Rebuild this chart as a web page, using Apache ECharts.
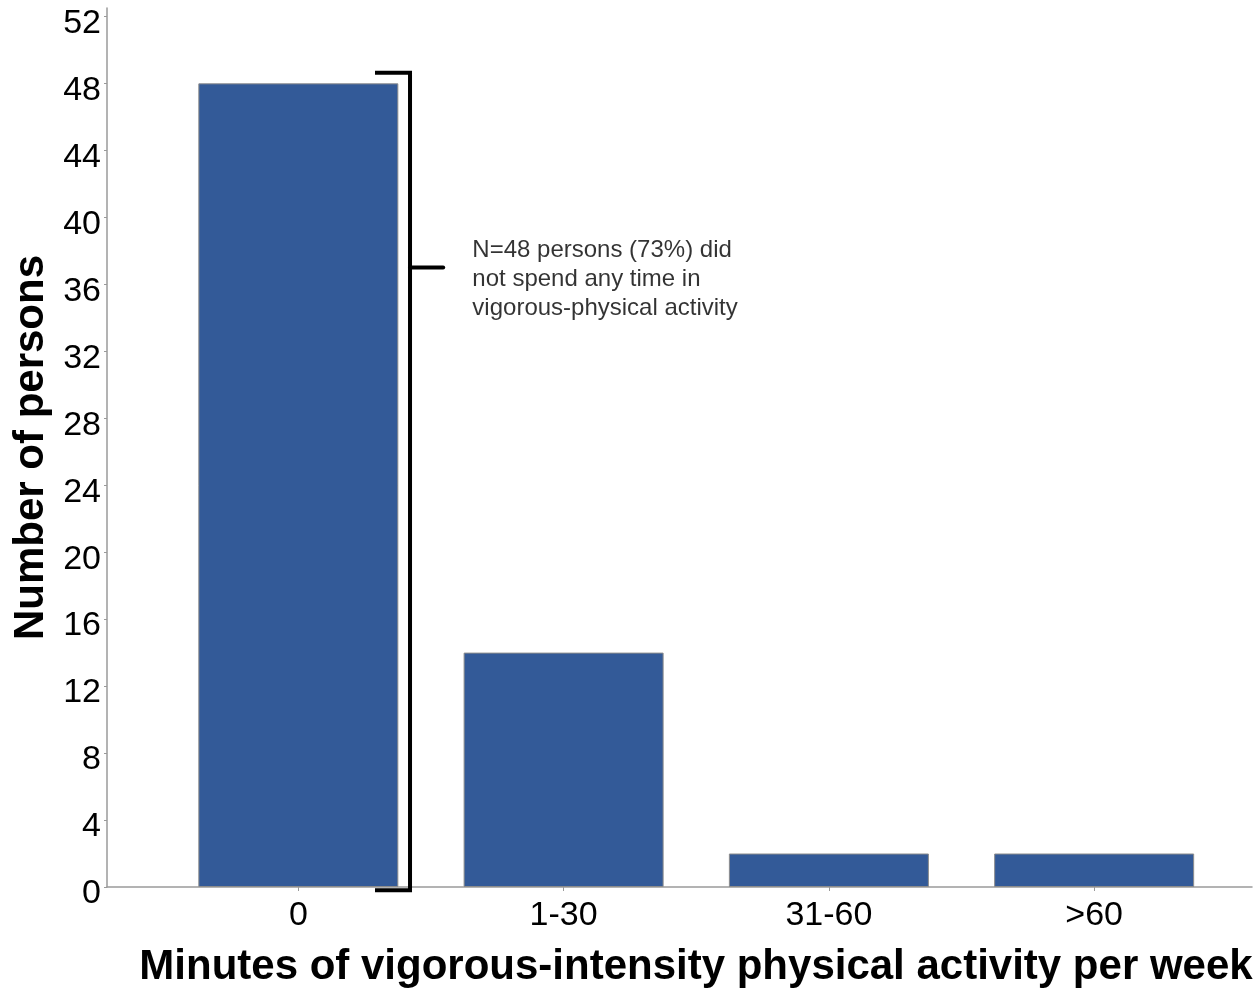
<!DOCTYPE html>
<html>
<head>
<meta charset="utf-8">
<script src="https://cdn.jsdelivr.net/npm/echarts@6/dist/echarts.min.js"></script>
<style>
html,body{margin:0;padding:0;background:#fff;}
#chart{width:1256px;height:990px;}
</style>
</head>
<body>
<div id="chart"></div>
<script>
// ---- data ----
const categories = ['0', '1-30', '31-60', '>60'];
const categoryPositions = [1, 2, 3, 4];
const persons = [48, 14, 2, 2];
const yTicks = [0, 4, 8, 12, 16, 20, 24, 28, 32, 36, 40, 44, 48, 52];
const annotationText = 'N=48 persons (73%) did\nnot spend any time in\nvigorous-physical activity';
// bracket annotation (in data units)
const bracketPath = [[1.289, 48.63], [1.421, 48.63], [1.421, -0.2], [1.289, -0.2]];
const bracketTick = [[1.421, 37.0], [1.546, 37.0]];
const annotationAnchor = [1.656, 38.9];

const FONT = '"Liberation Sans", Arial, sans-serif';
const chart = echarts.init(document.getElementById('chart'), null, {renderer: 'canvas'});

chart.setOption({
  animation: false,
  backgroundColor: '#ffffff',
  grid: {left: 107, right: 4, top: 8, bottom: 103, containLabel: false, outerBoundsMode: 'none'},
  xAxis: {
    type: 'value',
    min: 0.2787,
    max: 4.595,
    name: 'Minutes of vigorous-intensity physical activity per week',
    nameLocation: 'middle',
    nameGap: 59,
    nameTextStyle: {fontFamily: FONT, fontSize: 42, fontWeight: 'bold', color: '#000', padding: [0, 0, 0, 33]},
    axisLine: {show: true, lineStyle: {color: '#9a9a9a', width: 1.5}},
    axisTick: {show: true, length: 4, lineStyle: {color: '#9a9a9a'}, customValues: categoryPositions},
    axisLabel: {
      show: true, margin: 12, fontFamily: FONT, fontSize: 34, color: '#000',
      customValues: categoryPositions,
      formatter: v => categories[Math.round(v) - 1]
    },
    splitLine: {show: false}
  },
  yAxis: {
    type: 'value',
    min: 0,
    max: 52.5,
    name: 'Number of persons',
    nameLocation: 'middle',
    nameGap: 55,
    nameTextStyle: {fontFamily: FONT, fontSize: 42, fontWeight: 'bold', color: '#000'},
    axisLine: {show: true, lineStyle: {color: '#9a9a9a', width: 1.5}},
    axisTick: {show: true, length: 3, lineStyle: {color: '#9a9a9a'}, customValues: yTicks},
    axisLabel: {show: true, margin: 6, fontFamily: FONT, fontSize: 34, color: '#000', customValues: yTicks,
      verticalAlign: 'top', lineHeight: 14},
    splitLine: {show: false}
  },
  series: [
    {
      type: 'bar',
      data: categoryPositions.map((x, i) => [x, persons[i]]),
      barWidth: 200,
      itemStyle: {color: '#335a98', borderColor: '#8c8c8c', borderWidth: 1}
    },
    {
      type: 'line',
      data: bracketPath,
      symbol: 'none',
      clip: false,
      lineStyle: {color: '#000', width: 4, join: 'miter', cap: 'butt'},
      z: 5
    },
    {
      type: 'line',
      data: bracketTick,
      symbol: 'none',
      clip: false,
      lineStyle: {color: '#000', width: 4, cap: 'round'},
      z: 5
    },
    {
      type: 'scatter',
      data: [annotationAnchor],
      symbolSize: 0,
      clip: false,
      label: {
        show: true,
        position: [0, 0],
        align: 'left',
        verticalAlign: 'top',
        formatter: () => annotationText,
        fontFamily: FONT,
        fontSize: 24,
        lineHeight: 29,
        color: '#000'
      }
    }
  ]
});
</script>
</body>
</html>
